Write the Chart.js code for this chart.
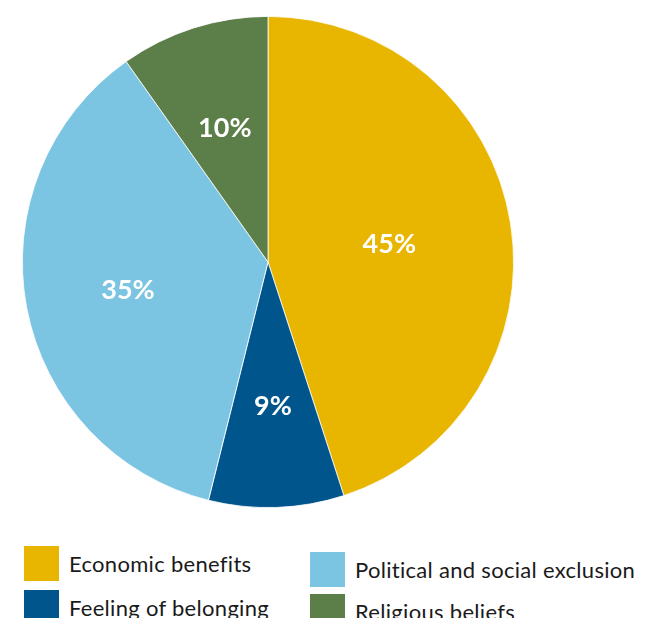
<!DOCTYPE html>
<html>
<head>
<meta charset="utf-8">
<script src="https://cdn.jsdelivr.net/npm/chart.js@4"></script>
<style>
  body { margin: 0; background: #fff; font-family: "Lato", sans-serif; }
  #wrap { position: relative; width: 646px; height: 618px; overflow: hidden; }
  #chartBox { position: absolute; left: 0; top: 0; width: 646px; height: 540px; }
  .item { position: absolute; display: flex; align-items: center; font-size: 22px; letter-spacing: 0.3px; color: #1a1a1a; white-space: nowrap; }
  .sw { width: 35px; height: 35px; margin-right: 10px; flex: none; }
</style>
</head>
<body>
<div id="wrap">
  <div id="chartBox"><canvas id="pieChart"></canvas></div>
  <div id="legend"></div>
</div>
<script>
const labels = ["Economic benefits", "Feeling of belonging", "Political and social exclusion", "Religious beliefs"];
// slice sizes as drawn in the picture, and the printed percent labels
const values = [45, 8.9, 36.3, 9.8];
const valueLabels = ["45%", "9%", "35%", "10%"];
const colors = ["#E8B500", "#00558C", "#7BC4E2", "#5C7E48"];

// legend slots: column/row for each category
const legendSlots = [
  { left: 24, top: 546 },
  { left: 24, top: 590 },
  { left: 310, top: 552 },
  { left: 310, top: 594 },
];

const legendEl = document.getElementById("legend");
labels.forEach((label, i) => {
  const item = document.createElement("div");
  item.className = "item";
  item.style.left = legendSlots[i].left + "px";
  item.style.top = legendSlots[i].top + "px";
  item.innerHTML = `<span class="sw" style="background:${colors[i]}"></span><span>${label}</span>`;
  legendEl.appendChild(item);
});

const sliceLabels = {
  id: "sliceLabels",
  afterDatasetsDraw(chart) {
    const ctx = chart.ctx;
    const meta = chart.getDatasetMeta(0);
    ctx.save();
    ctx.fillStyle = "#fff";
    ctx.font = "bold 27px Lato, sans-serif";
    ctx.textAlign = "center";
    ctx.textBaseline = "middle";
    meta.data.forEach((arc, i) => {
      const { startAngle, endAngle, x, y, outerRadius } = arc.getProps(
        ["startAngle", "endAngle", "x", "y", "outerRadius"], true);
      const mid = (startAngle + endAngle) / 2;
      const r = outerRadius * (i === 0 ? 0.5 : 0.58);
      ctx.fillText(valueLabels[i], x + Math.cos(mid) * r, y + Math.sin(mid) * r + 2);
    });
    ctx.restore();
  },
};

new Chart(document.getElementById("pieChart"), {
  type: "pie",
  data: {
    labels,
    datasets: [{
      data: values,
      backgroundColor: colors,
      borderColor: "#fff",
      borderWidth: 0.8,
    }],
  },
  options: {
    responsive: true,
    maintainAspectRatio: false,
    animation: false,
    layout: { padding: { left: 22, right: 132, top: 16, bottom: 32 } },
    plugins: {
      legend: { display: false },
      tooltip: { enabled: false },
    },
  },
  plugins: [sliceLabels],
});
</script>
</body>
</html>
